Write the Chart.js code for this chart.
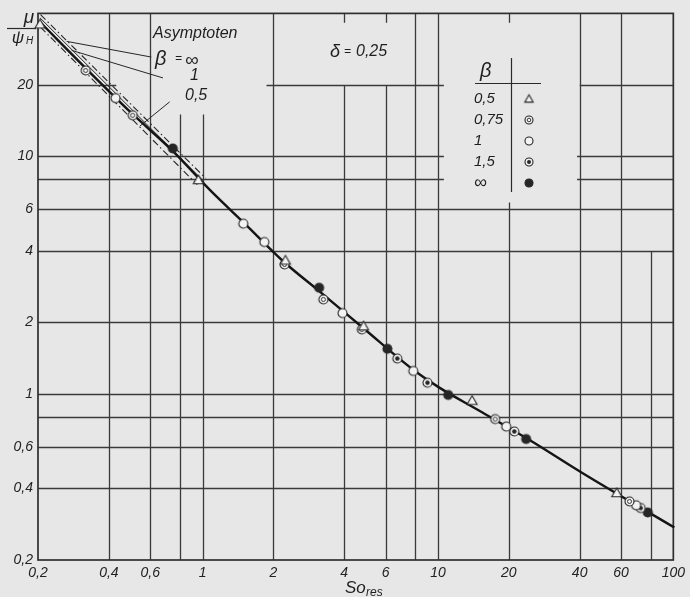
<!DOCTYPE html>
<html>
<head>
<meta charset="utf-8">
<script src="https://cdn.jsdelivr.net/npm/chart.js@4.4.1/dist/chart.umd.min.js"></script>
<style>
  html, body { margin: 0; padding: 0; background: #e7e7e7; }
  #wrap { width: 690px; height: 597px; }
</style>
</head>
<body>
<div id="wrap"><canvas id="myChart" width="690" height="597"></canvas></div>
<script>
// axis ticks (log-log paper)
const xTicks = [0.2, 0.4, 0.6, 0.8, 1, 2, 4, 6, 8, 10, 20, 40, 60, 80, 100];
const yTicks = [0.2, 0.4, 0.6, 0.8, 1, 2, 4, 6, 8, 10, 20, 40];
const xLabeled = [0.2, 0.4, 0.6, 1, 2, 4, 6, 10, 20, 40, 60, 100];
const yLabeled = [0.2, 0.4, 0.6, 1, 2, 4, 6, 10, 20];

// main curve mu/psiH over So_res
const curveSo = [0.204, 0.332, 0.5, 0.75, 1.09, 1.5, 2.2, 3.13, 4.8, 7.78, 10.1, 15, 24.7, 40.9, 101];
const curveMu = [36.8, 22.6, 15.2, 10.5, 7.12, 5.25, 3.62, 2.71, 1.90, 1.273, 1.066, 0.85, 0.637, 0.466, 0.274];

// measured points, one pair of lists per beta
const beta05So = [0.204, 0.96, 2.25, 4.83, 13.97, 57.5];
const beta05Mu = [36.0, 7.96, 3.65, 1.93, 0.937, 0.383];
const beta075So = [0.319, 0.505, 2.23, 3.26, 4.75, 17.5, 65.1];
const beta075Mu = [23.0, 14.9, 3.51, 2.50, 1.87, 0.784, 0.353];
const beta1So = [0.427, 1.49, 1.83, 3.93, 7.86, 19.5, 69.5];
const beta1Mu = [17.6, 5.21, 4.36, 2.19, 1.25, 0.729, 0.340];
const beta15So = [6.72, 9.03, 21.1, 72.7];
const beta15Mu = [1.41, 1.115, 0.695, 0.331];
const betaInfSo = [0.748, 3.13, 6.10, 11.06, 23.7, 77.9];
const betaInfMu = [10.8, 2.80, 1.55, 0.99, 0.646, 0.317];

// asymptotes (start / end)
const asymInfSo = [0.205, 1.03];
const asymInfMu = [39.5, 8.1];
const asym1So = [0.204, 1.0];
const asym1Mu = [38.3, 7.95];
const asym05So = [0.205, 0.95];
const asym05Mu = [35.0, 7.6];

// leader lines from the labels to the asymptotes
const leadInfSo = [0.2646, 0.606];
const leadInfMu = [30.5, 26.2];
const lead1So = [0.2778, 0.679];
const lead1Mu = [27.96, 21.4];
const lead05So = [0.541, 0.725];
const lead05Mu = [13.4, 16.97];

const legendBeta = ['0,5', '0,75', '1', '1,5', '\u221E'];

function pts(xs, ys) {
  return xs.map((v, i) => ({x: v, y: ys[i]}));
}

const INK = '#262626';
const PAPER = '#f3f3f3';

function marker(kind, r) {
  const s = Math.ceil(r * 2 + 4);
  const c = document.createElement('canvas');
  c.width = s; c.height = s;
  const g = c.getContext('2d');
  const m = s / 2;
  g.lineWidth = 1.1;
  g.strokeStyle = INK;
  if (kind === 'tri') {
    g.beginPath();
    g.moveTo(m, m - r);
    g.lineTo(m + r, m + r * 0.75);
    g.lineTo(m - r, m + r * 0.75);
    g.closePath();
    g.fillStyle = PAPER;
    g.fill();
    g.stroke();
    return c;
  }
  g.beginPath();
  g.arc(m, m, r, 0, Math.PI * 2);
  g.fillStyle = kind === 'full' ? INK : PAPER;
  g.fill();
  g.stroke();
  if (kind === 'ring') {
    g.lineWidth = 0.9;
    g.beginPath();
    g.arc(m, m, r * 0.45, 0, Math.PI * 2);
    g.stroke();
  }
  if (kind === 'dot') {
    g.beginPath();
    g.arc(m, m, r * 0.5, 0, Math.PI * 2);
    g.fillStyle = INK;
    g.fill();
  }
  return c;
}

const kinds = ['tri', 'ring', 'open', 'dot', 'full'];
const plotMarks = kinds.map(k => marker(k, k === 'tri' ? 5 : 4.5));
const legendMarks = kinds.map(k => marker(k, k === 'tri' ? 4.2 : 4));

// grid segments on the paper: [value, [[from, to], ...]] in the other axis' units
const vGrid = [
  [0.4, [[0.2, 40]]], [0.6, [[0.2, 40]]], [0.8, [[0.2, 15]]], [1, [[0.2, 15]]],
  [2, [[0.2, 40]]], [4, [[0.2, 20], [36.5, 40]]], [6, [[0.2, 20], [36.5, 40]]],
  [8, [[0.2, 40]]], [10, [[0.2, 40]]], [20, [[0.2, 6.4], [36.5, 40]]],
  [40, [[0.2, 40]]], [60, [[0.2, 40]]], [80, [[0.2, 4]]]
];
const hGrid = [
  [0.4, [[0.2, 100]]], [0.6, [[0.2, 100]]], [0.8, [[0.2, 100]]], [1, [[0.2, 100]]],
  [2, [[0.2, 100]]], [4, [[0.2, 100]]], [6, [[0.2, 100]]],
  [8, [[0.2, 10.6], [39, 100]]], [10, [[0.2, 10.6], [39, 100]]],
  [20, [[0.2, 0.43], [1.87, 10.6], [40, 100]]]
];

const paperGrid = {
  id: 'paperGrid',
  beforeDatasetsDraw(chart) {
    const {ctx, chartArea: a, scales: {x, y}} = chart;
    ctx.save();
    ctx.strokeStyle = '#3a3a3a';
    ctx.lineWidth = 1.3;
    ctx.beginPath();
    vGrid.forEach(([v, segs]) => {
      const px = Math.round(x.getPixelForValue(v)) + 0.5;
      segs.forEach(([lo, hi]) => {
        ctx.moveTo(px, y.getPixelForValue(lo));
        ctx.lineTo(px, y.getPixelForValue(hi));
      });
    });
    hGrid.forEach(([v, segs]) => {
      const py = Math.round(y.getPixelForValue(v)) + 0.5;
      segs.forEach(([lo, hi]) => {
        ctx.moveTo(x.getPixelForValue(lo), py);
        ctx.lineTo(x.getPixelForValue(hi), py);
      });
    });
    ctx.stroke();
    ctx.lineWidth = 1.7;
    ctx.strokeStyle = '#2e2e2e';
    ctx.strokeRect(a.left, a.top, a.right - a.left, a.bottom - a.top);
    ctx.restore();
  }
};

function txt(ctx, s, x, y, size, align) {
  ctx.font = 'italic ' + size + 'px "Liberation Sans"';
  ctx.textAlign = align || 'left';
  ctx.fillText(s, x, y);
}

const notes = {
  id: 'notes',
  afterDraw(chart) {
    const ctx = chart.ctx;
    ctx.save();
    ctx.fillStyle = '#1f1f1f';
    ctx.strokeStyle = '#2a2a2a';
    ctx.textBaseline = 'middle';

    // y axis title mu / psi_H
    txt(ctx, '\u03BC', 29, 18, 19, 'center');
    ctx.lineWidth = 1.2;
    ctx.beginPath(); ctx.moveTo(7, 28.5); ctx.lineTo(36, 28.5); ctx.stroke();
    txt(ctx, '\u03C8', 18, 38, 17, 'center');
    txt(ctx, 'H', 26, 41, 10);

    // asymptote labels
    txt(ctx, 'Asymptoten', 153, 34, 16);
    txt(ctx, '\u03B2', 155, 59, 20);
    txt(ctx, '=', 175, 59, 12);
    txt(ctx, '\u221E', 185, 61, 19);
    txt(ctx, '1', 190, 76, 16);
    txt(ctx, '0,5', 185, 96, 16);

    // delta
    txt(ctx, '\u03B4', 330, 52, 18);
    txt(ctx, '=', 344, 52, 12);
    txt(ctx, '0,25', 356, 52, 16);

    // beta legend table
    txt(ctx, '\u03B2', 480, 71, 20);
    ctx.lineWidth = 1.2;
    ctx.beginPath();
    ctx.moveTo(475, 83.5); ctx.lineTo(541, 83.5);
    ctx.moveTo(511.5, 58); ctx.lineTo(511.5, 192);
    ctx.stroke();
    const rows = [99, 120, 141, 162, 183];
    legendBeta.forEach((b, i) => {
      txt(ctx, b, 474, rows[i], b === '\u221E' ? 18 : 15);
      const m = legendMarks[i];
      ctx.drawImage(m, 529 - m.width / 2, rows[i] - m.height / 2);
    });

    // x axis title So_res
    txt(ctx, 'So', 345, 588, 17);
    txt(ctx, 'res', 366, 593, 12);
    ctx.restore();
  }
};

function lineSet(xs, ys, width, dash) {
  return {
    data: pts(xs, ys), showLine: true, pointRadius: 0, borderColor: INK,
    borderWidth: width, borderDash: dash || [], order: 2, clip: 4
  };
}
function markSet(xs, ys, i) {
  return {
    data: pts(xs, ys), showLine: false, pointStyle: plotMarks[i],
    pointRadius: 5, order: 1, clip: 10
  };
}

const myChart = document.getElementById('myChart');

const loglog = new Chart(myChart, {
  type: 'scatter',
  data: {
    datasets: [
      Object.assign(lineSet(curveSo, curveMu, 2.4), {cubicInterpolationMode: 'monotone', borderColor: '#151515'}),
      lineSet(asymInfSo, asymInfMu, 1.1, [7, 3, 1.5, 3]),
      lineSet(asym1So, asym1Mu, 1.0),
      lineSet(asym05So, asym05Mu, 1.1, [7, 3, 1.5, 3]),
      lineSet(leadInfSo, leadInfMu, 1.0),
      lineSet(lead1So, lead1Mu, 1.0),
      lineSet(lead05So, lead05Mu, 1.0),
      markSet(beta05So, beta05Mu, 0),
      markSet(beta075So, beta075Mu, 1),
      markSet(beta1So, beta1Mu, 2),
      markSet(beta15So, beta15Mu, 3),
      markSet(betaInfSo, betaInfMu, 4)
    ]
  },
  options: {
    responsive: false,
    animation: false,
    layout: {padding: {top: 12, right: 13, left: 0, bottom: 0}},
    plugins: {legend: {display: false}, tooltip: {enabled: false}},
    scales: {
      x: {
        type: 'logarithmic', min: 0.2, max: 100,
        grid: {display: false, drawTicks: false},
        border: {display: false},
        afterBuildTicks: s => { s.ticks = xTicks.map(v => ({value: v})); },
        afterFit: s => { s.height = 37; },
        ticks: {
          autoSkip: false, maxRotation: 0, padding: 5, color: '#222',
          font: {family: 'Liberation Sans', style: 'italic', size: 14},
          callback: v => xLabeled.includes(v) ? String(v).replace('.', ',') : ''
        }
      },
      y: {
        type: 'logarithmic', min: 0.2, max: 40,
        grid: {display: false, drawTicks: false},
        border: {display: false},
        afterBuildTicks: s => { s.ticks = yTicks.map(v => ({value: v})); },
        afterFit: s => { s.width = 38; },
        ticks: {
          autoSkip: false, padding: 5, color: '#222',
          font: {family: 'Liberation Sans', style: 'italic', size: 14},
          callback: v => yLabeled.includes(v) ? String(v).replace('.', ',') : ''
        }
      }
    }
  },
  plugins: [paperGrid, notes]
});
</script>
</body>
</html>
